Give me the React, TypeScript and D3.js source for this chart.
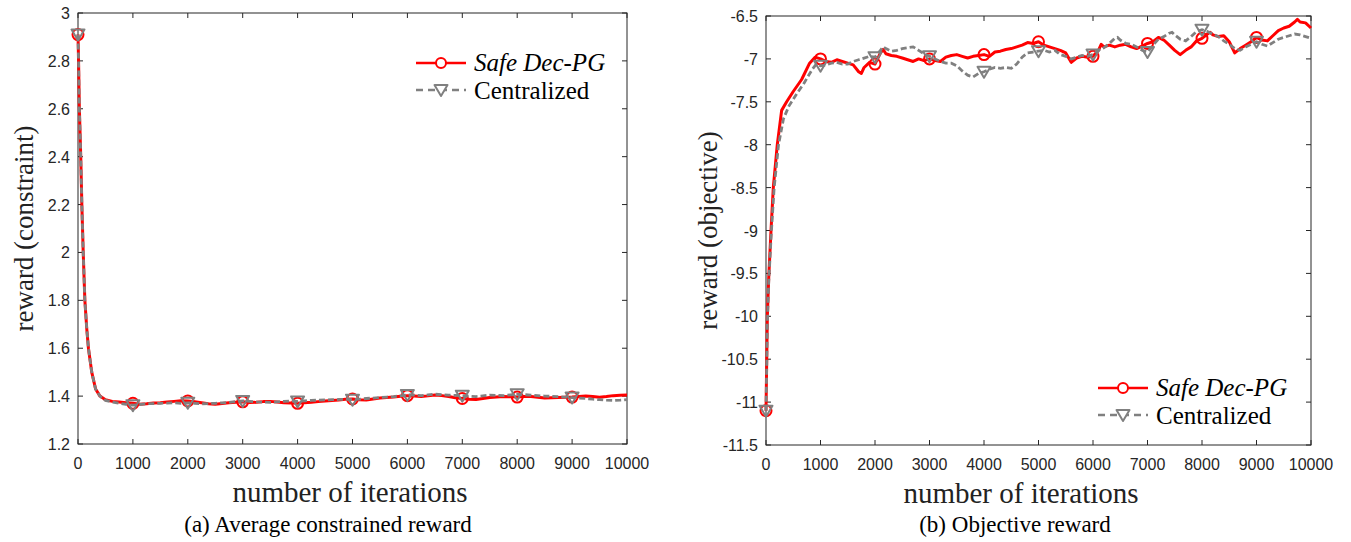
import React from "react";
import * as d3 from "d3";

const W = 1351;
const H = 542;

// x ticks shared by both panels
const xTicks = [0, 1000, 2000, 3000, 4000, 5000, 6000, 7000, 8000, 9000, 10000];
const markerIters = [0, 1000, 2000, 3000, 4000, 5000, 6000, 7000, 8000, 9000];

// (a) average constrained reward
const conIters = [0, 10, 25, 50, 70, 95, 125, 160, 190, 250, 320, 400, 500, 625, 750, 875, 1000, 1125, 1250, 1375, 1500, 1625, 1750, 1875, 2000, 2125, 2250, 2375, 2500, 2625, 2750, 2875, 3000, 3125, 3250, 3375, 3500, 3625, 3750, 3875, 4000, 4125, 4250, 4375, 4500, 4625, 4750, 4875, 5000, 5125, 5250, 5375, 5500, 5625, 5750, 5875, 6000, 6125, 6250, 6375, 6500, 6625, 6750, 6875, 7000, 7125, 7250, 7375, 7500, 7625, 7750, 7875, 8000, 8125, 8250, 8375, 8500, 8625, 8750, 8875, 9000, 9125, 9250, 9375, 9500, 9625, 9750, 9875, 10000];
const conSafe = [2.91, 2.8, 2.6, 2.4, 2.2, 2.0, 1.8, 1.68, 1.6, 1.5, 1.43, 1.4, 1.385, 1.378, 1.375, 1.372, 1.37, 1.366, 1.368, 1.371, 1.372, 1.375, 1.378, 1.381, 1.38, 1.376, 1.372, 1.368, 1.366, 1.369, 1.372, 1.374, 1.376, 1.373, 1.374, 1.377, 1.378, 1.375, 1.372, 1.371, 1.37, 1.372, 1.374, 1.377, 1.38, 1.382, 1.384, 1.387, 1.388, 1.385, 1.384, 1.388, 1.392, 1.394, 1.396, 1.399, 1.402, 1.4, 1.398, 1.401, 1.405, 1.402, 1.398, 1.393, 1.39, 1.387, 1.386, 1.39, 1.394, 1.396, 1.398, 1.397, 1.396, 1.398, 1.398, 1.395, 1.392, 1.393, 1.394, 1.395, 1.396, 1.398, 1.4, 1.398, 1.395, 1.398, 1.402, 1.404, 1.405];
const conCent = [2.91, 2.8, 2.6, 2.4, 2.2, 2.0, 1.8, 1.68, 1.6, 1.5, 1.43, 1.4, 1.382, 1.375, 1.37, 1.366, 1.362, 1.365, 1.368, 1.369, 1.37, 1.371, 1.372, 1.37, 1.372, 1.37, 1.368, 1.369, 1.37, 1.372, 1.374, 1.377, 1.38, 1.378, 1.376, 1.375, 1.374, 1.376, 1.378, 1.379, 1.378, 1.38, 1.382, 1.383, 1.384, 1.385, 1.386, 1.386, 1.385, 1.387, 1.39, 1.392, 1.394, 1.396, 1.398, 1.401, 1.405, 1.404, 1.402, 1.405, 1.408, 1.406, 1.404, 1.403, 1.402, 1.4, 1.398, 1.401, 1.404, 1.403, 1.402, 1.405, 1.408, 1.406, 1.404, 1.402, 1.4, 1.399, 1.398, 1.396, 1.394, 1.392, 1.39, 1.387, 1.385, 1.383, 1.382, 1.383, 1.385];
const conYTicks = [1.2, 1.4, 1.6, 1.8, 2, 2.2, 2.4, 2.6, 2.8, 3];

// (b) objective reward
const objItersSafe = [0, 25, 50, 92, 134, 207, 287, 379, 500, 654, 800, 900, 1000, 1100, 1200, 1300, 1400, 1500, 1600, 1700, 1750, 1800, 1900, 2000, 2100, 2150, 2200, 2300, 2400, 2500, 2600, 2700, 2800, 2900, 3000, 3100, 3200, 3300, 3400, 3500, 3600, 3700, 3800, 3900, 4000, 4100, 4200, 4300, 4400, 4500, 4600, 4700, 4800, 4900, 5000, 5100, 5200, 5300, 5400, 5500, 5600, 5700, 5800, 5900, 6000, 6100, 6150, 6200, 6300, 6400, 6500, 6600, 6700, 6800, 6900, 7000, 7100, 7200, 7300, 7400, 7500, 7600, 7700, 7800, 7900, 8000, 8100, 8150, 8200, 8300, 8400, 8500, 8600, 8700, 8800, 8900, 9000, 9100, 9200, 9300, 9400, 9500, 9600, 9700, 9750, 9800, 9900, 10000];
const objSafe = [-11.1, -10.0, -9.55, -9.0, -8.5, -8.0, -7.6, -7.5, -7.38, -7.24, -7.05, -6.98, -7.0, -7.03, -7.04, -7.01, -7.03, -7.05, -7.07, -7.15, -7.17, -7.1, -7.04, -7.06, -6.93, -6.89, -6.94, -6.96, -6.97, -6.99, -7.01, -7.03, -7.0, -7.02, -7.0, -7.02, -7.03, -6.98, -6.96, -6.95, -6.97, -6.99, -6.97, -6.96, -6.95, -6.97, -6.92, -6.91, -6.89, -6.88, -6.86, -6.84, -6.81, -6.82, -6.8, -6.84, -6.86, -6.88, -6.9, -6.93, -7.04, -6.99, -6.97, -6.98, -6.97, -6.9, -6.83, -6.86, -6.84, -6.86, -6.84, -6.83, -6.86, -6.88, -6.85, -6.82, -6.8, -6.75, -6.78, -6.84, -6.9, -6.95, -6.9, -6.86, -6.79, -6.76, -6.71, -6.69, -6.72, -6.74, -6.73, -6.8, -6.93, -6.88, -6.84, -6.8, -6.75, -6.78, -6.79, -6.73, -6.67, -6.64, -6.62, -6.57, -6.54, -6.57, -6.58, -6.64];
const objItersCent = [0, 25, 50, 100, 150, 230, 320, 420, 550, 700, 850, 925, 1000, 1100, 1200, 1300, 1400, 1500, 1600, 1700, 1800, 1900, 2000, 2100, 2150, 2200, 2300, 2400, 2500, 2600, 2700, 2800, 2900, 3000, 3100, 3200, 3300, 3400, 3500, 3600, 3700, 3800, 3900, 4000, 4100, 4200, 4300, 4400, 4500, 4600, 4700, 4800, 4900, 5000, 5100, 5200, 5300, 5400, 5500, 5600, 5700, 5800, 5900, 6000, 6100, 6200, 6300, 6400, 6450, 6500, 6600, 6700, 6800, 6900, 7000, 7100, 7200, 7300, 7400, 7450, 7500, 7600, 7700, 7800, 7900, 8000, 8100, 8200, 8300, 8400, 8500, 8600, 8700, 8800, 8900, 9000, 9100, 9200, 9300, 9400, 9500, 9600, 9700, 9800, 9900, 10000];
const objCent = [-11.1, -10.1, -9.6, -9.0, -8.5, -8.0, -7.7, -7.55, -7.42, -7.28, -7.12, -7.06, -7.08, -7.07, -7.05, -7.04, -7.06, -7.06, -7.03, -7.01, -6.99, -6.97, -6.98, -6.9, -6.86, -6.88, -6.91, -6.9, -6.88, -6.87, -6.86, -6.9, -6.94, -6.97, -7.0, -7.03, -7.05, -7.05, -7.08, -7.14, -7.19, -7.21, -7.17, -7.15, -7.12, -7.1, -7.11, -7.1, -7.11, -7.06, -6.98, -6.93, -6.92, -6.91, -6.9, -6.92, -6.9, -6.95, -6.97, -7.0, -6.98, -6.96, -6.97, -6.95, -6.9, -6.87, -6.82, -6.76, -6.75, -6.78, -6.82, -6.83, -6.86, -6.9, -6.92, -6.84, -6.77, -6.74, -6.7, -6.69, -6.72, -6.77, -6.79, -6.74, -6.68, -6.66, -6.68, -6.71, -6.74, -6.79, -6.83, -6.88, -6.9, -6.86, -6.83, -6.8, -6.83, -6.85, -6.81, -6.77, -6.75, -6.73, -6.71, -6.72, -6.74, -6.76];
const objYTicks = [-11.5, -11, -10.5, -10, -9.5, -9, -8.5, -8, -7.5, -7, -6.5];

const seriesNames = ["Safe Dec-PG", "Centralized"];

const RED = "#ff0000";
const GRAY = "#808080";
const AXIS = "#262626";
const SANS = "'Liberation Sans', Arial, sans-serif";
const SERIF = "'Liberation Serif', 'Times New Roman', serif";

type PanelProps = {
  left: number; top: number; width: number; height: number;
  yDomain: [number, number]; yTicks: number[];
  safe: [number[], number[]]; cent: [number[], number[]];
  xLabelX: number;
  yLabel: string; yLabelX: number;
  legend: [number, number];
  caption: string; captionX: number;
};

const tri = (cx: number, cy: number) => {
  const p = d3.path();
  p.moveTo(cx - 6.5, cy - 5);
  p.lineTo(cx + 6.5, cy - 5);
  p.lineTo(cx, cy + 6);
  p.closePath();
  return p.toString();
};

const Panel = (props: PanelProps) => {
  const { left, top, width, height, yDomain, yTicks, safe, cent } = props;
  const x = d3.scaleLinear().domain([0, 10000]).range([left, left + width]);
  const y = d3.scaleLinear().domain(yDomain).range([top + height, top]);
  const line = d3.line<[number, number]>().x(d => x(d[0])).y(d => y(d[1]));
  const safePts = safe[0].map((t, i) => [t, safe[1][i]] as [number, number]);
  const centPts = cent[0].map((t, i) => [t, cent[1][i]] as [number, number]);
  const at = (pts: [number, number][], t: number) => pts.find(p => p[0] === t)![1];
  const [lx, ly] = props.legend;
  const bottom = top + height;
  const right = left + width;

  return (
    <g>
      {/* ticks, inward on all four sides */}
      {xTicks.map(t => (
        <g key={"x" + t}>
          <line x1={x(t)} x2={x(t)} y1={bottom} y2={bottom - 5} stroke={AXIS} />
          <line x1={x(t)} x2={x(t)} y1={top} y2={top + 5} stroke={AXIS} />
          <text x={x(t)} y={bottom + 25} textAnchor="middle" fontFamily={SANS} fontSize={16} fill={AXIS}>{t}</text>
        </g>
      ))}
      {yTicks.map(t => (
        <g key={"y" + t}>
          <line x1={left} x2={left + 5} y1={y(t)} y2={y(t)} stroke={AXIS} />
          <line x1={right} x2={right - 5} y1={y(t)} y2={y(t)} stroke={AXIS} />
          <text x={left - 8} y={y(t) + 6} textAnchor="end" fontFamily={SANS} fontSize={16} fill={AXIS}>{String(+t.toFixed(1))}</text>
        </g>
      ))}
      <rect x={left} y={top} width={width} height={height} fill="none" stroke={AXIS} strokeWidth={1} />

      <path d={line(safePts)!} fill="none" stroke={RED} strokeWidth={3} strokeLinejoin="round" />
      {markerIters.map(t => (
        <circle key={"c" + t} cx={x(t)} cy={y(at(safePts, t))} r={5.5} fill="none" stroke={RED} strokeWidth={2} />
      ))}
      <path d={line(centPts)!} fill="none" stroke={GRAY} strokeWidth={2.8} strokeDasharray="6,3" />
      {markerIters.map(t => (
        <path key={"t" + t} d={tri(x(t), y(at(centPts, t)))} fill="none" stroke={GRAY} strokeWidth={2} strokeLinejoin="round" />
      ))}

      {/* legend */}
      <line x1={lx} x2={lx + 50} y1={ly} y2={ly} stroke={RED} strokeWidth={2.6} />
      <circle cx={lx + 25} cy={ly} r={5} fill="white" stroke={RED} strokeWidth={2} />
      <text x={lx + 58} y={ly + 8} fontFamily={SERIF} fontStyle="italic" fontSize={25}>{seriesNames[0]}</text>
      <line x1={lx} x2={lx + 50} y1={ly + 27} y2={ly + 27} stroke={GRAY} strokeWidth={2.6} strokeDasharray="7,5" />
      <path d={tri(lx + 25, ly + 27)} fill="white" stroke={GRAY} strokeWidth={2} strokeLinejoin="round" />
      <text x={lx + 58} y={ly + 36} fontFamily={SERIF} fontSize={25}>{seriesNames[1]}</text>

      <text x={props.xLabelX} y={bottom + 58} textAnchor="middle" fontFamily={SERIF} fontSize={29} fill="#222">number of iterations</text>
      <text transform={`translate(${props.yLabelX},${(top + bottom) / 2}) rotate(-90)`} textAnchor="middle" fontFamily={SERIF} fontSize={27} fill="#222">{props.yLabel}</text>
      <text x={props.captionX} y={532} textAnchor="middle" fontFamily={SERIF} fontSize={23}>{props.caption}</text>
    </g>
  );
};

export default function App() {
  return (
    <svg width={W} height={H} style={{ position: "absolute", left: 0, top: 0, background: "white" }}>
      <Panel
        left={78} top={13} width={549} height={431}
        yDomain={[1.2, 3]} yTicks={conYTicks}
        safe={[conIters, conSafe]} cent={[conIters, conCent]}
        xLabelX={350}
        yLabel="reward (constraint)" yLabelX={33}
        legend={[416, 63]}
        caption="(a)  Average constrained reward" captionX={328}
      />
      <Panel
        left={766} top={16} width={545} height={429}
        yDomain={[-11.5, -6.5]} yTicks={objYTicks}
        safe={[objItersSafe, objSafe]} cent={[objItersCent, objCent]}
        xLabelX={1021}
        yLabel="reward (objective)" yLabelX={717}
        legend={[1098, 388]}
        caption="(b)  Objective reward" captionX={1015}
      />
    </svg>
  );
}
